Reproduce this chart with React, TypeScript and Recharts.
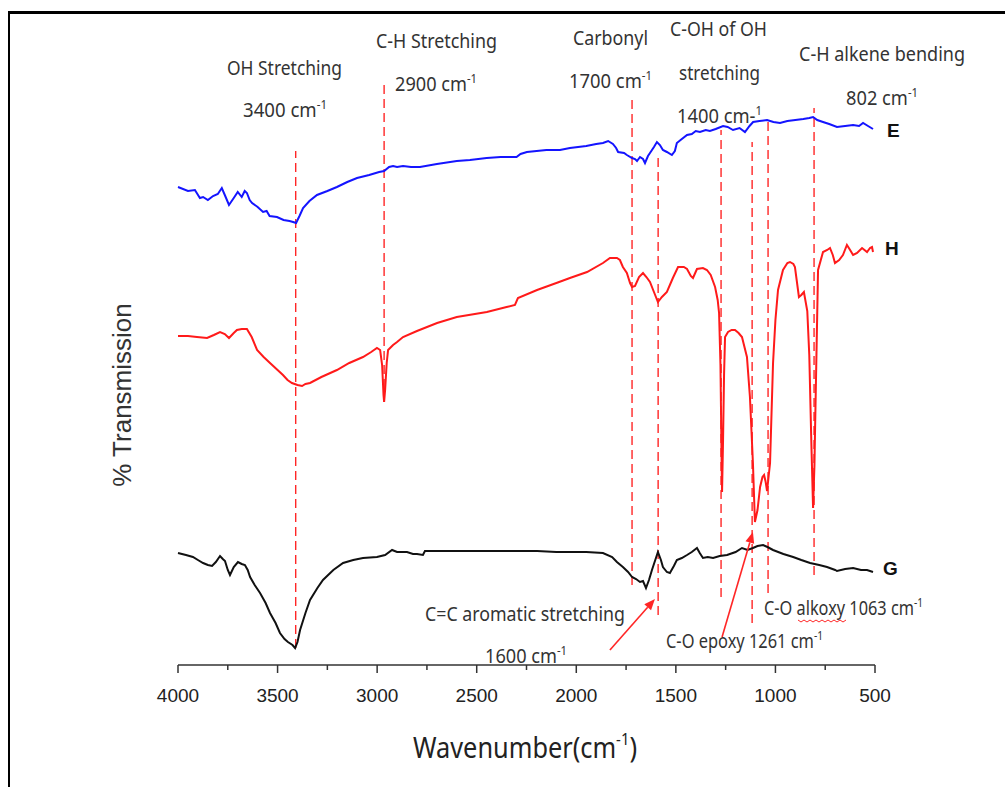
import { LineChart, Line, XAxis, YAxis, ReferenceLine } from 'recharts'

// FTIR spectra, wavenumber (cm-1) vs arbitrary % transmission (offset curves)
const waveE = [4000, 3950, 3915, 3890, 3874, 3850, 3824, 3800, 3780, 3765, 3744, 3720, 3700, 3680, 3665, 3654, 3640, 3628, 3600, 3573, 3555, 3540, 3503, 3470, 3440, 3422, 3407, 3390, 3372, 3340, 3302, 3250, 3202, 3150, 3101, 3040, 2990, 2965, 2940, 2920, 2900, 2870, 2830, 2785, 2700, 2600, 2534, 2450, 2380, 2300, 2280, 2248, 2150, 2082, 2032, 1950, 1900, 1866, 1840, 1816, 1800, 1790, 1760, 1746, 1720, 1705, 1695, 1680, 1665, 1655, 1640, 1630, 1610, 1595, 1580, 1565, 1545, 1520, 1505, 1495, 1470, 1444, 1420, 1400, 1379, 1350, 1329, 1300, 1263, 1240, 1213, 1180, 1153, 1130, 1112, 1080, 1042, 1010, 977, 940, 900, 860, 830, 811, 790, 761, 730, 691, 650, 610, 580, 560, 535, 510]
const transE = [95.6, 94.8, 95.0, 93.4, 93.6, 93.0, 93.8, 94.2, 95.4, 94.0, 92.0, 93.4, 94.6, 93.6, 94.8, 94.4, 93.0, 92.4, 91.6, 90.6, 90.8, 89.8, 89.6, 89.0, 88.8, 88.6, 88.4, 89.8, 91.4, 92.8, 94.0, 94.8, 95.6, 96.6, 97.4, 98.0, 98.6, 98.8, 99.6, 99.8, 99.6, 99.8, 99.6, 99.6, 100.2, 100.8, 101.0, 101.4, 101.6, 101.6, 102.2, 102.6, 103.0, 103.0, 103.4, 103.8, 104.2, 104.4, 104.8, 104.2, 103.4, 102.6, 102.4, 102.0, 101.4, 101.2, 100.8, 101.6, 101.2, 100.4, 101.8, 102.4, 103.6, 104.6, 104.0, 103.0, 102.6, 102.0, 102.8, 104.4, 105.2, 106.0, 106.2, 106.8, 106.6, 107.0, 106.8, 107.2, 107.8, 107.6, 107.0, 107.4, 106.6, 107.8, 108.6, 108.8, 109.0, 108.6, 108.4, 108.8, 109.0, 109.2, 109.4, 109.6, 109.0, 108.6, 108.2, 107.6, 107.8, 108.0, 107.8, 108.4, 107.8, 107.2]

const waveH = [4000, 3950, 3905, 3854, 3820, 3789, 3765, 3744, 3720, 3704, 3680, 3654, 3630, 3603, 3570, 3538, 3500, 3473, 3450, 3428, 3400, 3377, 3360, 3337, 3280, 3202, 3140, 3071, 3030, 3001, 2985, 2975, 2968, 2965, 2960, 2952, 2945, 2935, 2920, 2900, 2870, 2800, 2699, 2600, 2449, 2350, 2308, 2293, 2197, 2100, 2032, 1946, 1866, 1831, 1796, 1781, 1766, 1746, 1730, 1720, 1705, 1685, 1665, 1648, 1630, 1610, 1590, 1570, 1545, 1515, 1489, 1460, 1444, 1425, 1414, 1394, 1364, 1344, 1325, 1303, 1290, 1283, 1276, 1270, 1268, 1263, 1258, 1253, 1238, 1220, 1203, 1185, 1168, 1143, 1128, 1113, 1103, 1090, 1077, 1065, 1057, 1049, 1042, 1035, 1027, 1012, 1000, 987, 962, 940, 927, 910, 902, 882, 870, 857, 840, 830, 820, 811, 804, 801, 794, 786, 761, 740, 726, 712, 701, 680, 661, 641, 625, 610, 590, 565, 540, 525, 515, 510]
const transH = [65.8, 65.8, 65.6, 65.4, 66.0, 66.6, 66.2, 65.4, 66.4, 67.0, 67.2, 67.2, 65.6, 63.0, 61.6, 60.4, 59.0, 58.0, 57.0, 56.4, 56.0, 55.8, 56.2, 56.4, 57.6, 59.0, 60.4, 61.6, 62.6, 63.4, 63.0, 60.0, 54.0, 52.6, 55.0, 60.4, 63.0, 63.4, 64.0, 64.6, 65.6, 66.8, 68.4, 69.6, 70.6, 71.6, 72.0, 73.4, 75.0, 76.4, 77.4, 78.6, 80.4, 81.4, 81.4, 81.0, 79.6, 78.4, 76.4, 75.6, 75.8, 77.6, 78.4, 77.6, 76.6, 74.6, 72.6, 73.6, 74.6, 77.4, 79.6, 79.6, 79.2, 77.8, 77.4, 79.2, 79.4, 79.0, 78.0, 75.6, 73.0, 70.4, 60.0, 40.0, 34.6, 45.0, 58.0, 65.6, 66.6, 67.0, 67.0, 66.4, 65.6, 61.6, 53.6, 40.4, 28.6, 31.0, 35.6, 37.6, 38.0, 36.6, 34.8, 37.4, 40.4, 60.4, 69.0, 75.0, 79.0, 80.4, 80.6, 80.2, 79.6, 73.6, 74.0, 74.6, 70.8, 62.0, 45.0, 31.4, 40.0, 47.0, 62.0, 79.0, 82.6, 83.0, 83.4, 82.0, 80.4, 81.0, 82.0, 84.0, 83.0, 82.0, 82.4, 83.4, 82.6, 83.4, 83.6, 82.6]

const waveG = [4000, 3960, 3925, 3900, 3874, 3850, 3829, 3810, 3789, 3775, 3764, 3750, 3739, 3720, 3699, 3680, 3664, 3650, 3638, 3615, 3588, 3560, 3538, 3510, 3488, 3465, 3448, 3425, 3412, 3400, 3387, 3360, 3337, 3300, 3272, 3220, 3171, 3120, 3071, 3001, 2960, 2925, 2900, 2850, 2820, 2800, 2770, 2760, 2500, 2197, 2100, 2000, 1950, 1866, 1820, 1796, 1766, 1740, 1720, 1700, 1680, 1665, 1650, 1635, 1620, 1590, 1575, 1565, 1545, 1530, 1510, 1495, 1470, 1444, 1420, 1394, 1380, 1364, 1340, 1313, 1280, 1243, 1200, 1168, 1140, 1113, 1090, 1062, 1040, 1012, 960, 911, 870, 826, 780, 741, 700, 691, 650, 610, 570, 540, 510]
const transG = [22.4, 22.0, 21.6, 21.0, 20.4, 20.0, 19.8, 20.6, 21.8, 21.2, 20.8, 19.0, 18.0, 19.6, 20.6, 20.2, 20.0, 19.0, 17.6, 16.0, 14.4, 12.4, 10.4, 8.4, 6.4, 5.2, 4.6, 4.0, 3.4, 4.6, 7.0, 10.4, 13.0, 15.4, 17.0, 19.0, 20.4, 21.0, 21.4, 21.6, 22.0, 23.0, 22.6, 22.6, 22.2, 22.2, 22.0, 22.8, 22.8, 22.8, 22.6, 22.6, 22.6, 22.4, 21.6, 20.6, 19.6, 18.6, 17.6, 17.2, 16.6, 16.8, 15.4, 17.0, 19.0, 22.6, 21.0, 19.6, 18.6, 18.4, 19.8, 21.0, 21.4, 22.0, 22.6, 23.4, 22.4, 21.4, 21.6, 21.4, 21.8, 22.0, 22.6, 23.4, 23.0, 23.4, 23.8, 24.0, 23.6, 23.0, 22.2, 21.6, 21.0, 20.4, 20.0, 19.6, 19.0, 18.8, 19.2, 19.4, 19.0, 19.0, 18.6]

const xTicks = [4000, 3750, 3500, 3250, 3000, 2750, 2500, 2250, 2000, 1750, 1500, 1250, 1000, 750, 500]

// dashed band markers
const markWave = [3409, 2965, 1720, 1589, 1273, 1117, 1037, 806]
const markTop = [102.8, 116.6, 113.6, 102.4, 107, 104.6, 109.4, 111.4]
const markBottom = [3.4, 52.6, 16, 10, 13.6, 8.4, 14.4, 18]

// arrows: tail -> head
const arrowFromWave = [1831, 1268]
const arrowFromT = [3, 5.6]
const arrowToWave = [1605, 1113]
const arrowToT = [13.2, 26.6]

const rows = (w: number[], t: number[]) => w.map((x, i) => ({ wave: x, t: t[i] }))

const RED = '#ff2626'

function WaveTick(props: any) {
  const { x, y, payload } = props
  const major = payload.value % 500 === 0
  return (
    <g>
      <line x1={x} x2={x} y1={y} y2={y + (major ? 8 : 5)} stroke="#333" strokeWidth={1.5} />
      {major && (
        <text x={x} y={y + 37} textAnchor="middle" fontFamily="'Liberation Sans', Arial" fontSize={19} fill="#222">
          {payload.value}
        </text>
      )}
    </g>
  )
}

function Arrow(props: any) {
  const { x1, y1, x2, y2 } = props
  const a = Math.atan2(y2 - y1, x2 - x1)
  const L = 11
  const W = 4.5
  const bx = x2 - L * Math.cos(a)
  const by = y2 - L * Math.sin(a)
  const pts = `${x2},${y2} ${bx - W * Math.sin(a)},${by + W * Math.cos(a)} ${bx + W * Math.sin(a)},${by - W * Math.cos(a)}`
  return (
    <g>
      <line x1={x1} y1={y1} x2={bx} y2={by} stroke={RED} strokeWidth={1.6} />
      <polygon points={pts} fill={RED} />
    </g>
  )
}

type NoteProps = { x: number; y: number; w: number; text: string; sup?: string; size?: number }

function Note({ x, y, w, text, sup, size = 20 }: NoteProps) {
  return (
    <text x={x} y={y} textLength={w} lengthAdjust="spacingAndGlyphs" fontSize={size} fill="#333" fontFamily="'Noto Sans', sans-serif">
      {text}
      {sup && (
        <tspan dy={-8} fontSize={size * 0.62}>
          {sup}
        </tspan>
      )}
    </text>
  )
}

function Overlay() {
  const wave = []
  for (let x = 798; x < 848; x += 3) wave.push(`${x},${620 + ((x - 798) / 3) % 2 * 2}`)
  return (
    <svg width={1005} height={787} style={{ position: 'absolute', left: 0, top: 0, pointerEvents: 'none' }}>
      <Note x={227} y={75} w={115} text="OH Stretching" />
      <Note x={243} y={117} w={84} text="3400 cm" sup="-1" />
      <Note x={376} y={48} w={121} text="C-H Stretching" />
      <Note x={395} y={91} w={82} text="2900 cm" sup="-1" />
      <Note x={573} y={45} w={75} text="Carbonyl" />
      <Note x={569} y={88} w={83} text="1700 cm" sup="-1" />
      <Note x={670} y={36} w={97} text="C-OH of OH" />
      <Note x={679} y={80} w={81} text="stretching" />
      <Note x={677} y={123} w={85} text="1400 cm-" sup="1" />
      <Note x={799} y={61} w={166} text="C-H alkene bending" />
      <Note x={846} y={105} w={72} text="802 cm" sup="-1" />
      <Note x={425} y={621} w={200} text="C=C aromatic stretching" />
      <Note x={485} y={663} w={82} text="1600 cm" sup="-1" />
      <Note x={666} y={648} w={157} text="C-O epoxy 1261 cm" sup="-1" />
      <Note x={764} y={615} w={159} text="C-O alkoxy 1063 cm" sup="-1" />
      <polyline points={wave.join(' ')} fill="none" stroke={RED} strokeWidth={1} />
      <text x={887} y={137} fontSize={19} fontWeight="bold" fontFamily="'Liberation Sans', Arial" fill="#111">E</text>
      <text x={885} y={255} fontSize={19} fontWeight="bold" fontFamily="'Liberation Sans', Arial" fill="#111">H</text>
      <text x={883} y={575} fontSize={19} fontWeight="bold" fontFamily="'Liberation Sans', Arial" fill="#111">G</text>
      <text x={122} y={395} transform="rotate(-90 122 395)" textAnchor="middle" dominantBaseline="central" fontSize={26} fontFamily="'Liberation Sans', Arial" fill="#333">
        % Transmission
      </text>
      <text x={413} y={758} textLength={224} lengthAdjust="spacingAndGlyphs" fontSize={29} fontFamily="'Noto Sans', sans-serif" fill="#222">
        Wavenumber(cm
        <tspan dy={-13} fontSize={17}>-1</tspan>
        <tspan dy={13}>)</tspan>
      </text>
    </svg>
  )
}

export default function App() {
  return (
    <div style={{ position: 'fixed', left: 0, top: 0, width: 1005, height: 787, overflow: 'hidden', background: '#fff' }}>
      <div style={{ position: 'absolute', left: 8, top: 11, right: -10, bottom: -10, borderTop: '3px solid #000', borderLeft: '2px solid #000' }} />
      <div style={{ position: 'absolute', left: 0, top: 0 }}>
        <LineChart width={1005} height={787} margin={{ top: 105, right: 130, bottom: 82, left: 178 }}>
          <XAxis
            type="number"
            dataKey="wave"
            domain={[500, 4000]}
            reversed
            ticks={xTicks}
            interval={0}
            height={40}
            tickSize={0}
            tickMargin={0}
            tickLine={false}
            tick={<WaveTick />}
            axisLine={{ stroke: '#333', strokeWidth: 1.5 }}
            allowDuplicatedCategory={false}
          />
          <YAxis type="number" domain={[0, 112]} width={0} tick={false} tickLine={false} axisLine={{ stroke: '#333', strokeWidth: 1.5 }} />
          {markWave.map((w, i) => (
            <ReferenceLine
              key={w}
              segment={[{ x: w, y: markBottom[i] }, { x: w, y: markTop[i] }]}
              stroke={RED}
              strokeDasharray="9 5"
              strokeWidth={1.4}
              ifOverflow="visible"
            />
          ))}
          <Line data={rows(waveE, transE)} dataKey="t" type="linear" stroke="#1414ff" strokeWidth={2} dot={false} isAnimationActive={false} />
          <Line data={rows(waveH, transH)} dataKey="t" type="linear" stroke="#ff1a1a" strokeWidth={2} dot={false} isAnimationActive={false} />
          <Line data={rows(waveG, transG)} dataKey="t" type="linear" stroke="#111" strokeWidth={2} dot={false} isAnimationActive={false} />
          {arrowFromWave.map((w, i) => (
            <ReferenceLine
              key={'a' + w}
              segment={[{ x: w, y: arrowFromT[i] }, { x: arrowToWave[i], y: arrowToT[i] }]}
              ifOverflow="visible"
              shape={(p: any) => <Arrow {...p} />}
            />
          ))}
        </LineChart>
      </div>
      <Overlay />
    </div>
  )
}
